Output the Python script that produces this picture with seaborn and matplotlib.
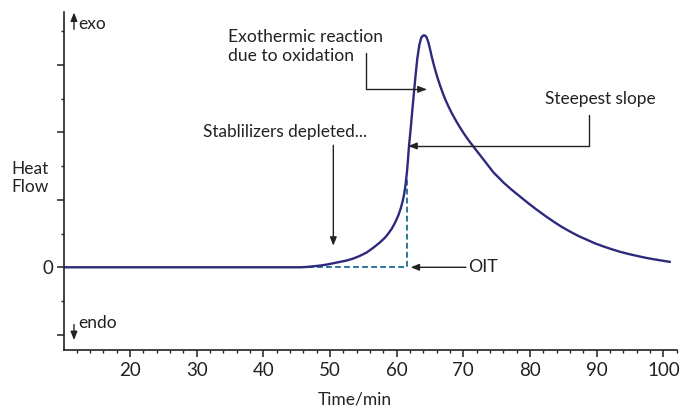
import matplotlib
matplotlib.use("Agg")
import matplotlib.pyplot as plt
import seaborn as sns
import pandas as pd

# heat flow trace (time in min, heat flow in major-tick units)
time_min = [10.1, 44.0, 45.5, 46.5, 47.5, 48.5, 49.5, 50.5, 51.5, 52.5, 53.5, 54.5,
            55.5, 56.5, 57.5, 58.25, 58.75, 59.25, 59.75, 60.25, 60.6, 60.9, 61.15,
            61.35, 61.55, 61.7, 61.85, 62.1, 62.35, 62.6, 62.85, 63.1, 63.4, 63.7,
            64.0, 64.25, 64.5, 64.75, 65.0, 65.25, 65.5, 65.75, 66.1, 66.5, 66.9,
            67.25, 67.75, 68.25, 68.75, 69.25, 69.75, 70.25, 70.75, 71.25, 71.75,
            72.5, 73.25, 74.5, 76.0, 77.25, 78.5, 79.75, 81.0, 82.25, 83.5, 84.75,
            86.0, 87.25, 88.5, 89.75, 91.0, 92.25, 93.5, 94.75, 96.0, 97.25, 98.5,
            99.75, 101.0]
heat_flow = [0.0, 0.0, 0.0, 0.005, 0.015, 0.025, 0.04, 0.06, 0.08, 0.10, 0.13, 0.17,
             0.22, 0.29, 0.37, 0.44, 0.50, 0.57, 0.66, 0.77, 0.87, 0.98, 1.10,
             1.24, 1.42, 1.60, 1.80, 2.05, 2.33, 2.60, 2.86, 3.10, 3.30, 3.41,
             3.44, 3.44, 3.41, 3.34, 3.24, 3.13, 3.03, 2.94, 2.82, 2.70, 2.59,
             2.50, 2.39, 2.29, 2.20, 2.115, 2.035, 1.96, 1.89, 1.825, 1.76,
             1.665, 1.57, 1.41, 1.26, 1.15, 1.05, 0.95, 0.855, 0.765, 0.68, 0.60,
             0.53, 0.465, 0.41, 0.355, 0.31, 0.268, 0.23, 0.198, 0.17, 0.143, 0.12,
             0.10, 0.08]

# OIT construction (dashed baseline + drop)
oit_time = [46.7, 61.55, 61.55]
oit_flow = [0.0, 0.0, 1.33]

x_major = [20, 30, 40, 50, 60, 70, 80, 90, 100]
x_minor = list(range(12, 103, 2))
y_major = [-1, 0, 1, 2, 3]
y_labels = ["", "0", "", "", ""]
y_minor = [-0.5, 0.5, 1.5, 2.5, 3.5]

sns.set_style("ticks")
plt.rcParams["font.family"] = ["Lato", "DejaVu Sans"]

curve_col = "#2d2a7d"
dash_col = "#1b6b9a"
ink = "#222222"

fig = plt.figure(figsize=(6.8, 4.09), dpi=100)
ax = fig.add_axes([0.0941, 0.1443, 0.901, 0.8264])

df = pd.DataFrame({"t": time_min, "hf": heat_flow})
oit = pd.DataFrame({"t": oit_time, "hf": oit_flow})
sns.lineplot(data=oit, x="t", y="hf", sort=False, estimator=None, ax=ax,
             color=dash_col, lw=1.3, linestyle=(0, (3.2, 1.8)))
sns.lineplot(data=df, x="t", y="hf", sort=False, estimator=None, ax=ax,
             color=curve_col, lw=1.7)

ax.set_xlim(10.1, 102)
ax.set_ylim(-1.227, 3.788)
sns.despine(ax=ax)
for s in ["left", "bottom"]:
    ax.spines[s].set_linewidth(1.2)
    ax.spines[s].set_color(ink)

ax.set_xticks(x_major)
ax.set_xticks(x_minor, minor=True)
ax.set_yticks(y_major, labels=y_labels)
ax.set_yticks(y_minor, minor=True)
ax.tick_params(axis="both", which="major", direction="out", length=5, width=1.1,
               color=ink, labelcolor=ink)
ax.tick_params(axis="both", which="minor", direction="out", length=2.5, width=1.0, color=ink)
ax.tick_params(axis="x", which="major", labelsize=13.5, pad=4)
ax.tick_params(axis="y", which="major", labelsize=13.5, pad=3)

ax.set_xlabel("Time/min", fontsize=12.5, color=ink)
ax.xaxis.set_label_coords(0.475, -0.122)
ax.set_ylabel("")
fig.text(11 / 680, 1 - 178 / 409, "Heat\nFlow", ha="left", va="center",
         fontsize=12.5, color=ink, linespacing=1.1)

arrow = dict(arrowstyle="-|>,head_length=0.5,head_width=0.2", color=ink, lw=1.0,
             shrinkA=0, shrinkB=0)

# exo / endo direction markers
ax.annotate("", xy=(11.6, 3.78), xytext=(11.6, 3.53), arrowprops=arrow)
ax.text(12.2, 3.61, "exo", ha="left", va="center", fontsize=12.5, color=ink)
ax.annotate("", xy=(11.6, -1.08), xytext=(11.6, -0.85), arrowprops=arrow)
ax.text(12.3, -0.83, "endo", ha="left", va="center", fontsize=12.5, color=ink)

# callouts
ax.text(34.7, 3.28, "Exothermic reaction\ndue to oxidation", ha="left", va="center",
        fontsize=12.6, color=ink, linespacing=1.2)
ax.annotate("", xy=(64.5, 2.64), xytext=(55.4, 3.18),
            arrowprops=dict(arrow, connectionstyle="angle,angleA=90,angleB=0,rad=0"))

ax.text(82.25, 2.50, "Steepest slope", ha="left", va="center", fontsize=12.4, color=ink)
ax.annotate("", xy=(61.75, 1.80), xytext=(88.9, 2.26),
            arrowprops=dict(arrow, connectionstyle="angle,angleA=90,angleB=0,rad=0"))

ax.text(30.95, 2.0, "Stablilizers depleted...", ha="left", va="center", fontsize=12.4, color=ink)
ax.annotate("", xy=(50.5, 0.32), xytext=(50.5, 1.81), arrowprops=arrow)

ax.text(70.7, 0.0, "OIT", ha="left", va="center", fontsize=12.8, color=ink)
ax.annotate("", xy=(62.1, 0.0), xytext=(70.4, 0.0), arrowprops=arrow)

fig.savefig("out.png", dpi=100)
